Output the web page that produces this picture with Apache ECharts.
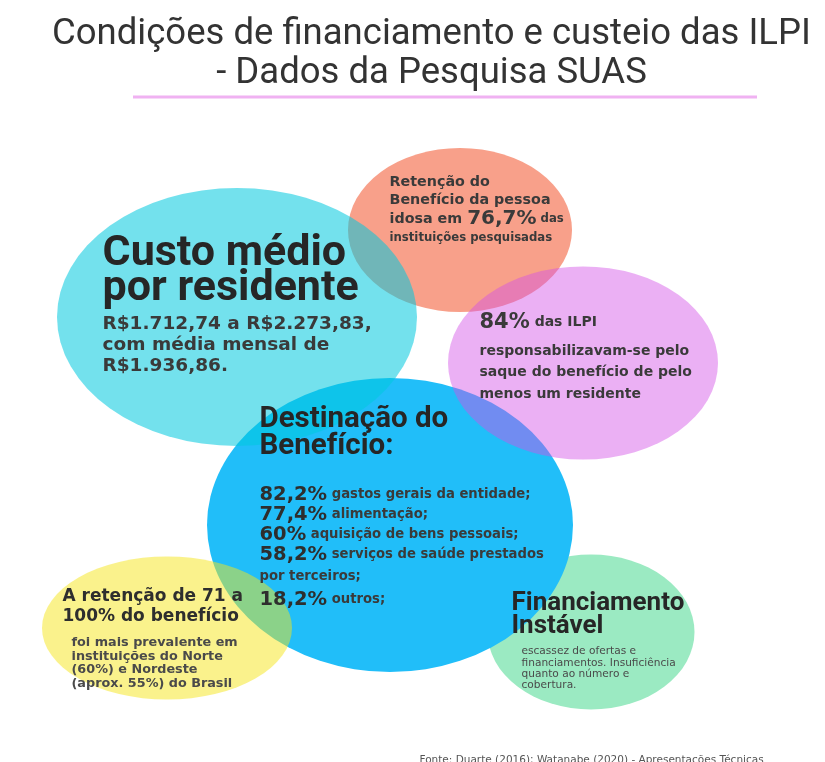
<!DOCTYPE html>
<html><head><meta charset="utf-8">
<script src="https://cdn.jsdelivr.net/npm/echarts@6/dist/echarts.min.js"></script>
<style>html,body{margin:0;padding:0;background:#fff}#c{width:825px;height:762px}</style>
</head><body><div id="c"></div>
<script>
// ---- content (text data) ----
const titleLines = ['Condições de financiamento e custeio das ILPI', '- Dados da Pesquisa SUAS'];
const bubbleNames = ['Financiamento Instável', 'Destinação do Benefício', 'Retenção do Benefício', 'Custo médio', 'Retenção 71 a 100%', 'Saque do benefício'];
const custoHeading = ['Custo médio', 'por residente'];
const custoLines = ['R$1.712,74 a R$2.273,83,', 'com média mensal de', 'R$1.936,86.'];
const retencaoLines = ['Retenção do', 'Benefício da pessoa', 'idosa em '];
const retencaoPct = '76,7%';
const retencaoTail = [' das', 'instituições pesquisadas'];
const saquePct = '84%';
const saqueLines = [' das ILPI', 'responsabilizavam-se pelo', 'saque do benefício de pelo', 'menos um residente'];
const destinoHeading = ['Destinação do', 'Benefício:'];
const destinoPct = ['82,2%', '77,4%', '60%', '58,2%', '18,2%'];
const destinoItems = ['gastos gerais da entidade;', 'alimentação;', 'aquisição de bens pessoais;', 'serviços de saúde prestados', 'outros;'];
const destinoCont = 'por terceiros;';
const regiaoHeading = ['A retenção de 71 a', '100% do benefício'];
const regiaoLines = ['foi mais prevalente em', 'instituições do Norte', '(60%) e Nordeste', '(aprox. 55%) do Brasil'];
const financHeading = ['Financiamento', 'Instável'];
const financLines = ['escassez de ofertas e', 'financiamentos. Insuficiência', 'quanto ao número e', 'cobertura.'];
const footer = 'Fonte: Duarte (2016); Watanabe (2020) - Apresentações Técnicas';

// ---- layout (positions, sizes, styles) ----
const bubbleLayout = [
  {c: [591, 632], s: [207, 155], color: '#9beac2'},
  {c: [390, 525], s: [366, 294], color: '#21bef9'},
  {c: [460, 230], s: [224, 164], color: '#f8a08a'},
  {c: [237, 317], s: [360, 258], color: 'rgba(0,200,222,0.55)'},
  {c: [167, 628], s: [250, 143], color: 'rgba(245,230,25,0.5)'},
  {c: [583, 363], s: [270, 193], color: 'rgba(210,80,230,0.45)'}
];

const HEAD = 'Roboto, sans-serif';
const BODY = '"DejaVu Sans", sans-serif';
const dark = '#262626', body = '#3a3a3a';

function seg(s, t) { return '{' + s + '|' + t + '}'; }

const blocks = [
  { pos: [432, 16], align: 'center',
    text: titleLines.map(l => seg('t', l)).join('\n'),
    rich: { t: {fontFamily: HEAD, fontSize: 36.5, lineHeight: 39, color: '#333333', align: 'center'} } },
  { pos: [103, 237],
    text: custoHeading.map(l => seg('h', l)).join('\n'),
    rich: { h: {fontFamily: HEAD, fontWeight: 'bold', fontSize: 43, lineHeight: 35, color: dark} } },
  { pos: [103, 314.5],
    text: custoLines.map(l => seg('b', l)).join('\n'),
    rich: { b: {fontFamily: BODY, fontWeight: 'bold', fontSize: 18.5, lineHeight: 21, color: body} } },
  { pos: [390, 173.5],
    text: [seg('b', retencaoLines[0]), seg('b', retencaoLines[1]),
           seg('b', retencaoLines[2]) + seg('big', retencaoPct) + seg('s', retencaoTail[0]),
           seg('s', retencaoTail[1])].join('\n'),
    rich: { b: {fontFamily: BODY, fontWeight: 'bold', fontSize: 14.3, lineHeight: 18.5, color: body},
            big: {fontFamily: BODY, fontWeight: 'bold', fontSize: 20, lineHeight: 18.5, color: body},
            s: {fontFamily: BODY, fontWeight: 'bold', fontSize: 11.7, lineHeight: 18.5, color: body} } },
  { pos: [480, 305],
    text: [seg('big', saquePct) + seg('m', saqueLines[0]), seg('b', saqueLines[1]), seg('b', saqueLines[2]), seg('b', saqueLines[3])].join('\n'),
    rich: { big: {fontFamily: BODY, fontWeight: 'bold', fontSize: 21, lineHeight: 36, color: body},
            m: {fontFamily: BODY, fontWeight: 'bold', fontSize: 14, lineHeight: 36, color: body},
            b: {fontFamily: BODY, fontWeight: 'bold', fontSize: 14, lineHeight: 21.5, color: body} } },
  { pos: [260, 407],
    text: destinoHeading.map(l => seg('h', l)).join('\n'),
    rich: { h: {fontFamily: HEAD, fontWeight: 'bold', fontSize: 29.5, lineHeight: 27, color: dark} } },
  { pos: [260, 485],
    text: [0, 1, 2, 3].map(i => seg('p', destinoPct[i]) + seg('b', ' ' + destinoItems[i]))
      .concat([seg('c', destinoCont), seg('p', destinoPct[4]) + seg('b', ' ' + destinoItems[4])]).join('\n'),
    rich: { p: {fontFamily: BODY, fontWeight: 'bold', fontSize: 19.5, lineHeight: 20, color: '#2e2e2e'},
            b: {fontFamily: BODY, fontWeight: 'bold', fontSize: 13.2, lineHeight: 20, color: body},
            c: {fontFamily: BODY, fontWeight: 'bold', fontSize: 13.2, lineHeight: 25, color: body} } },
  { pos: [63, 587],
    text: regiaoHeading.map(l => seg('h', l)).join('\n'),
    rich: { h: {fontFamily: BODY, fontWeight: 'bold', fontSize: 17, lineHeight: 20, color: '#2e2e2e'} } },
  { pos: [72, 636.5],
    text: regiaoLines.map(l => seg('b', l)).join('\n'),
    rich: { b: {fontFamily: BODY, fontWeight: 'bold', fontSize: 12.8, lineHeight: 13.5, color: '#4a4a4a'} } },
  { pos: [512, 592.5],
    text: financHeading.map(l => seg('h', l)).join('\n'),
    rich: { h: {fontFamily: HEAD, fontWeight: 'bold', fontSize: 26, lineHeight: 23, color: dark} } },
  { pos: [522, 646.5],
    text: financLines.map(l => seg('b', l)).join('\n'),
    rich: { b: {fontFamily: BODY, fontSize: 10.6, lineHeight: 11.2, color: '#4a4a4a'} } },
  { pos: [420, 755],
    text: seg('f', footer),
    rich: { f: {fontFamily: BODY, fontSize: 10.5, lineHeight: 12, color: '#555'} } }
];

const chart = echarts.init(document.getElementById('c'), null, {renderer: 'canvas'});
chart.setOption({
  backgroundColor: '#ffffff',
  animation: false,
  grid: {left: 0, right: 0, top: 0, bottom: 0},
  xAxis: {type: 'value', min: 0, max: 825, show: false},
  yAxis: {type: 'value', min: 0, max: 762, inverse: true, show: false},
  series: [
    { type: 'scatter', silent: true, z: 2,
      data: bubbleLayout.map((b, i) => ({
        name: bubbleNames[i], value: b.c, symbol: 'circle', symbolSize: b.s,
        itemStyle: {color: b.color, opacity: 1}
      })),
      emphasis: {disabled: true} },
    { type: 'line', silent: true, z: 3, symbol: 'none',
      data: [[133, 97], [757, 97]],
      lineStyle: {color: '#f0b2f2', width: 3} },
    { type: 'scatter', silent: true, z: 5, symbolSize: 1,
      itemStyle: {color: 'rgba(0,0,0,0)', opacity: 1},
      emphasis: {disabled: true},
      data: blocks.map(b => ({
        value: b.pos,
        label: {show: true, position: [0, 0], align: b.align || 'left', verticalAlign: 'top',
                formatter: b.text, rich: b.rich}
      })) }
  ]
});
</script></body></html>
